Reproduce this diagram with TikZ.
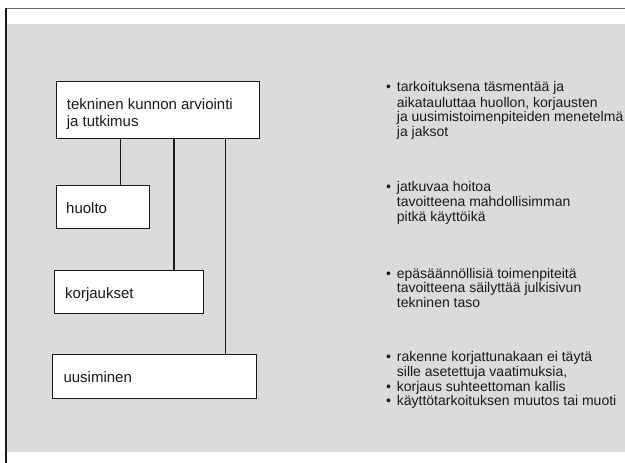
\documentclass[tikz,border=0pt]{standalone}
\usepackage{fontspec}
\setmainfont{Liberation Sans}
\definecolor{paper}{HTML}{DBDBDB}
\definecolor{ink}{HTML}{1A1A1A}
\newcommand\bulmark{\llap{\textbullet\hspace{5.8pt}}}
\begin{document}
\begin{tikzpicture}[x=1pt,y=-1pt,
  box/.style={draw=ink, line width=1.2pt, fill=white, anchor=north west, inner sep=0pt},
  lbl/.style={anchor=base west, inner sep=0pt, text=ink, font=\fontsize{15}{19}\selectfont},
  itm/.style={anchor=base west, inner sep=0pt, text=ink, font=\fontsize{14}{15}\selectfont},
  conn/.style={draw=ink, line width=1.2pt}]
\useasboundingbox (0,0) rectangle (625,463);
\fill[white] (0,0) rectangle (625,463);
\fill[paper] (7,24) rectangle (625,452);
\draw[line width=1.2pt, black!60] (6,8.5) -- (625,8.5);
\draw[line width=1.5pt, ink] (6,8) -- (6,463);

% boxes
\node[box, minimum width=203.3pt, minimum height=57pt] (top) at (55.7,81) {};
\node[box, minimum width=93.3pt, minimum height=43pt] (huolto) at (55.7,185) {};
\node[box, minimum width=148.7pt, minimum height=43pt] (korj) at (54,270) {};
\node[box, minimum width=203.7pt, minimum height=44pt] (uusi) at (52,354) {};

% box texts
\node[lbl] (t1) at (66.7,109.3) {tekninen kunnon arviointi};
\node[lbl] (t2) at (66.7,126) {ja tutkimus};
\node[lbl] (th) at (66,213.3) {huolto};
\node[lbl] (tk) at (65,298) {korjaukset};
\node[lbl] (tu) at (63.3,382.5) {uusiminen};

% connectors
\coordinate (c1) at (120.7,0);
\coordinate (c2) at (174,0);
\coordinate (c3) at (225.7,0);
\draw[conn] (c1 |- top.south) -- (c1 |- huolto.north);
\draw[conn] (c2 |- top.south) -- (c2 |- korj.north);
\draw[conn] (c3 |- top.south) -- (c3 |- uusi.north);

% right-hand texts
\node[itm] (a1) at (396.7,92) {\bulmark tarkoituksena täsmentää ja};
\node[itm] (a2) at (396.7,107) {aikatauluttaa huollon, korjausten};
\node[itm] (a3) at (396.7,121.5) {ja uusimistoimenpiteiden menetelmä};
\node[itm] (a4) at (396.7,136.3) {ja jaksot};

\node[itm] (b1) at (396.7,191.8) {\bulmark jatkuvaa hoitoa};
\node[itm] (b2) at (396.7,206.8) {tavoitteena mahdollisimman};
\node[itm] (b3) at (396.7,221.5) {pitkä käyttöikä};

\node[itm] (d1) at (396.7,278.5) {\bulmark epäsäännöllisiä toimenpiteitä};
\node[itm] (d2) at (396.7,292.8) {tavoitteena säilyttää julkisivun};
\node[itm] (d3) at (396.7,307.5) {tekninen taso};

\node[itm] (e1) at (396.7,361.5) {\bulmark rakenne korjattunakaan ei täytä};
\node[itm] (e2) at (396.7,376.3) {sille asetettuja vaatimuksia,};
\node[itm] (e3) at (396.7,391) {\bulmark korjaus suhteettoman kallis};
\node[itm] (e4) at (396.7,405.5) {\bulmark käyttötarkoituksen muutos tai muoti};
\end{tikzpicture}
\end{document}
